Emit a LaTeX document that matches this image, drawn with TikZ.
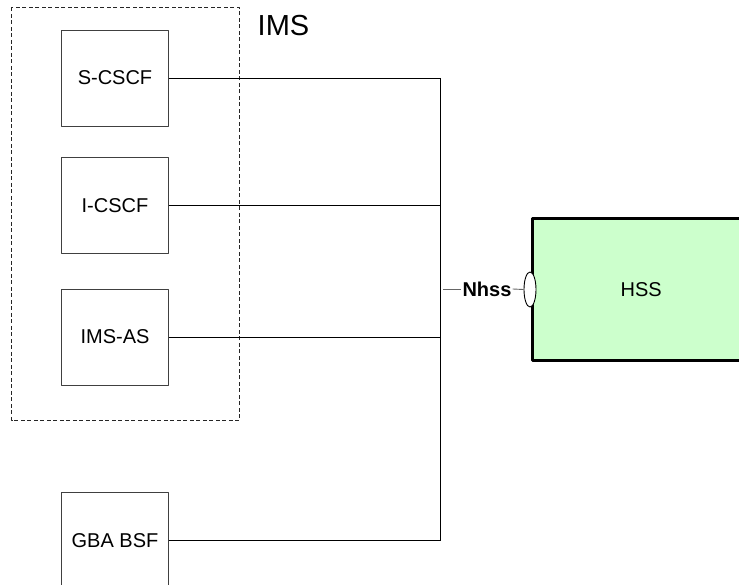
\documentclass[tikz,border=0pt]{standalone}
\usepackage{fontspec}
\setmainfont{Liberation Sans}
\usetikzlibrary{shapes.geometric}
\definecolor{hssgreen}{HTML}{CCFFCC}
\begin{document}
\begin{tikzpicture}[x=1pt,y=-1pt,line join=round,font=\fontsize{20}{24}\selectfont,
	fn/.style={draw=black!75,line width=0.8pt,minimum width=106.6pt,minimum height=96pt,inner sep=0pt},
	link/.style={line width=0.9pt}]
	\clip (0,0) rectangle (739,585);
	\draw[dash pattern=on 4pt off 2.5pt,line width=0.9pt,black!85] (11.7,7.3) rectangle (239.3,420.7);
	\node[font=\fontsize{29}{34}\selectfont] (ims) at (283.5,25.5) {IMS};
	\node[fn] (scscf) at (115,78) {S-CSCF};
	\node[fn] (icscf) at (115,205.3) {I-CSCF};
	\node[fn] (imsas) at (115,337) {IMS-AS};
	\node[fn] (gbabsf) at (115,540.3) {GBA BSF};
	\coordinate (bus) at (440.7,0);
	\draw[link] (scscf.east) -- (scscf.east -| bus);
	\draw[link] (icscf.east) -- (icscf.east -| bus);
	\draw[link] (imsas.east) -- (imsas.east -| bus);
	\draw[link] (gbabsf.east) -- (gbabsf.east -| bus);
	\draw[line width=1.2pt] (scscf.east -| bus) -- (gbabsf.east -| bus);
	% Nhss reference point
	\node[draw,line width=3pt,fill=hssgreen,minimum width=217.5pt,minimum height=142.3pt] (hss) at (641.25,289.2) {HSS};
	\node[ellipse,draw,line width=0.9pt,fill=white,minimum width=12pt,minimum height=35pt,inner sep=0pt] (refpt) at (530,289.5) {};
	\node[font=\bfseries\fontsize{20}{24}\selectfont,inner sep=1pt] (nhss) at (487,289) {Nhss};
	\coordinate (nhssend) at (443,289);
	\draw[link,black!60] (nhssend) -- (nhss.west);
	\draw[link,black!60] (nhss.east) -- (refpt.west);
\end{tikzpicture}
\end{document}
